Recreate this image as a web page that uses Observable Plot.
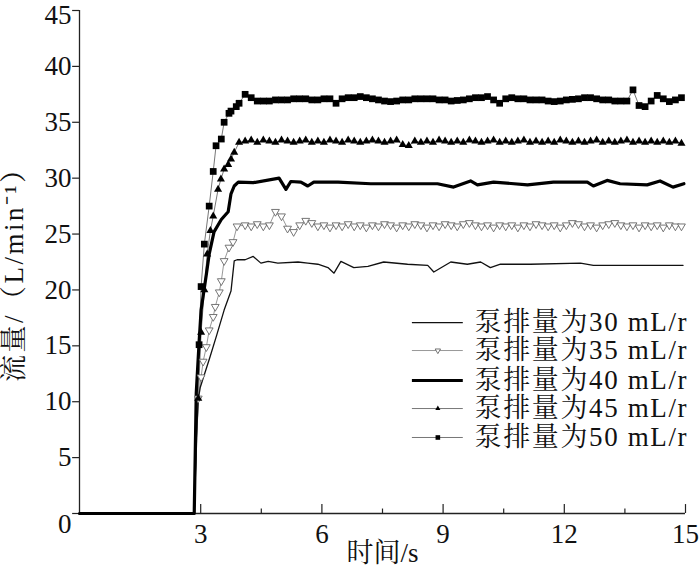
<!DOCTYPE html>
<html><head><meta charset="utf-8">
<script src="https://cdn.jsdelivr.net/npm/d3@7"></script>
<script src="https://cdn.jsdelivr.net/npm/@observablehq/plot@0.6"></script>
<style>html,body{margin:0;padding:0;background:#fff;}</style>
</head><body><div id="chart"></div>
<script>
// ---- labels & ticks ----
const seriesNames = ["泵排量为30 mL/r","泵排量为35 mL/r","泵排量为40 mL/r","泵排量为45 mL/r","泵排量为50 mL/r"];
const xLabel = "时间/s";
const yLabel = "流量/（L/min⁻¹）";
const xMajorTicks = [3, 6, 9, 12, 15];
const xMinorTicks = [4.5, 7.5, 10.5, 13.5];
const yTicks = [0, 5, 10, 15, 20, 25, 30, 35, 40, 45];

// ---- 30 mL/r (thin line) ----
const t30 = [0, 2.84, 2.89, 2.94, 2.99, 3.23, 3.40, 3.58, 3.75, 3.83, 3.90, 4.10, 4.30, 4.49, 4.67, 4.91, 5.41, 5.65, 5.90, 6.15, 6.30, 6.47, 6.79, 7.14, 7.53, 8.12, 8.62, 8.77, 9.19, 9.60, 9.93, 10.17, 10.42, 11.16, 12.40, 12.72, 14.94];
const v30 = [0, 0, 6.6, 10.2, 11.3, 14.0, 16.0, 18.2, 19.9, 22.6, 22.7, 22.7, 23.0, 22.4, 22.55, 22.4, 22.5, 22.4, 22.3, 22.0, 21.5, 22.55, 22.0, 22.1, 22.5, 22.3, 22.2, 21.6, 22.5, 22.3, 22.5, 22.0, 22.3, 22.3, 22.4, 22.2, 22.2];

// ---- 40 mL/r (thick line) ----
const t40 = [0, 2.84, 2.89, 2.96, 3.01, 3.14, 3.21, 3.33, 3.51, 3.68, 3.75, 3.83, 3.93, 4.30, 4.94, 5.11, 5.23, 5.48, 5.65, 5.80, 6.40, 7.21, 8.02, 8.44, 8.86, 9.26, 9.68, 9.85, 10.25, 11.09, 11.73, 12.57, 12.72, 13.06, 13.38, 14.05, 14.37, 14.69, 14.96];
const v40 = [0, 0, 10.8, 15.3, 18.2, 21.4, 23.2, 25.2, 26.3, 27.0, 28.6, 29.3, 29.65, 29.6, 30.0, 29.0, 29.7, 29.65, 29.3, 29.65, 29.65, 29.5, 29.5, 29.5, 29.5, 29.2, 29.75, 29.4, 29.65, 29.4, 29.65, 29.65, 29.3, 29.8, 29.5, 29.4, 29.75, 29.2, 29.5];

// ---- marker series: rise part ----
const t35rise = [0, 2.84, 2.94, 3.01, 3.06, 3.14, 3.21, 3.31, 3.36, 3.46, 3.51, 3.58, 3.70, 3.80, 3.90];
const v35rise = [0, 0, 10.3, 12.2, 13.6, 14.9, 16.4, 17.6, 18.5, 19.8, 20.8, 22.6, 23.8, 24.3, 25.7];
const t45rise = [0, 2.84, 2.94, 3.01, 3.09, 3.16, 3.24, 3.31, 3.43, 3.50, 3.58, 3.68, 3.75, 3.83, 3.95];
const v45rise = [0, 0, 10.3, 16.2, 20.0, 23.2, 25.3, 26.6, 29.0, 29.9, 30.8, 31.2, 31.7, 32.3, 33.2];
const t50rise = [0, 2.84, 2.96, 3.01, 3.09, 3.21, 3.31, 3.38, 3.51, 3.58, 3.70, 3.75, 3.88, 3.95];
const v50rise = [0, 0, 15.1, 20.3, 24.1, 27.5, 30.6, 32.9, 33.5, 35.0, 35.8, 36.0, 36.4, 36.7];

// ---- marker series: steady part (shared sample times) ----
const tSteady = [4.1,4.25,4.4,4.55,4.7,4.85,5.0,5.15,5.3,5.45,
  5.6,5.75,5.9,6.05,6.2,6.35,6.5,6.65,6.8,6.95,
  7.1,7.25,7.4,7.55,7.7,7.85,8.0,8.15,8.3,8.45,
  8.6,8.75,8.9,9.05,9.2,9.35,9.5,9.65,9.8,9.95,
  10.1,10.25,10.4,10.55,10.7,10.85,11.0,11.15,11.3,11.45,
  11.6,11.75,11.9,12.05,12.2,12.35,12.5,12.65,12.8,12.95,
  13.1,13.25,13.4,13.55,13.7,13.85,14.0,14.15,14.3,14.45,
  14.6,14.75,14.9];
const v35steady = [25.8,25.7,25.9,25.7,25.8,27.0,26.6,25.5,25.2,25.8,
  26.2,26.0,25.7,25.8,25.6,25.8,25.7,25.9,25.7,25.8,
  25.6,25.8,25.7,25.9,25.8,25.6,25.8,25.7,25.9,25.8,
  25.6,25.8,25.7,25.9,25.8,25.7,25.9,26.0,25.8,25.7,
  25.8,25.6,25.8,25.7,25.8,25.6,25.8,25.7,25.9,25.8,
  25.7,25.8,25.6,25.8,26.0,25.9,25.7,25.8,25.6,25.8,
  25.9,26.0,25.8,25.7,25.8,25.6,25.8,25.7,25.8,25.6,
  25.8,25.7,25.7];
const v45steady = [33.3,33.4,33.2,33.4,33.3,33.2,33.4,33.3,33.2,33.3,
  33.4,33.2,33.3,33.2,33.4,33.3,33.2,33.4,33.3,33.2,
  33.3,33.4,33.3,33.2,33.3,33.4,33.0,32.9,33.3,33.2,
  33.3,33.2,33.4,33.3,33.2,33.3,33.2,33.4,33.3,33.2,
  33.3,33.4,33.2,33.3,33.2,33.3,33.4,33.2,33.3,33.2,
  33.3,33.2,33.4,33.3,33.2,33.3,33.2,33.3,33.4,33.2,
  33.3,33.2,33.3,33.4,33.2,33.3,33.2,33.3,33.2,33.3,
  33.2,33.3,33.1];
const v50steady = [37.5,37.2,36.9,36.9,36.9,37.0,37.0,37.0,37.1,37.1,
  37.1,37.0,37.0,37.1,37.1,36.7,37.1,37.2,37.2,37.3,
  37.2,37.1,37.0,36.9,36.85,36.9,37.0,37.0,37.1,37.1,
  37.1,37.1,37.0,37.0,36.9,36.95,37.0,37.1,37.2,37.2,
  37.3,37.0,36.7,37.1,37.2,37.1,37.1,37.0,37.0,37.0,
  36.9,36.85,36.9,37.0,37.05,37.1,37.2,37.2,37.1,37.0,
  37.0,36.9,36.9,36.9,37.9,36.5,36.4,36.9,37.4,37.1,
  36.85,37.0,37.2];

// ---- build tables ----
const rows = (t, v) => t.map((x, i) => ({x, y: v[i]}));
const s30 = rows(t30, v30);
const s40 = rows(t40, v40);
const s35 = rows(t35rise.concat(tSteady), v35rise.concat(v35steady));
const s45 = rows(t45rise.concat(tSteady), v45rise.concat(v45steady));
const s50 = rows(t50rise.concat(tSteady), v50rise.concat(v50steady));

const triDown = {draw(ctx, size) {
  const a = Math.sqrt(4 * size / Math.sqrt(3)), h = a * Math.sqrt(3) / 2;
  ctx.moveTo(-a / 2, -h / 3); ctx.lineTo(a / 2, -h / 3); ctx.lineTo(0, 2 * h / 3); ctx.closePath();
}};

const serif = "'Liberation Serif','Times New Roman','Noto Serif CJK SC','Noto Sans CJK SC',serif";
const FS = 27;

// legend placement (data coordinates inside the frame)
const legY = [17.08, 14.58, 11.9, 9.39, 6.8];
const legX1 = 8.24, legX2 = 9.5, legXm = 8.87, legXt = 9.78;

const marks = [
  // axes
  Plot.ruleY([0], {stroke: "#222", strokeWidth: 1.3}),
  Plot.ruleX([0], {stroke: "#222", strokeWidth: 1.3}),
  Plot.ruleY(yTicks, {y: d => d, x1: -0.17, x2: 0, stroke: "#222", strokeWidth: 1.2}),
  Plot.ruleX(xMajorTicks, {x: d => d, y1: 0, y2: 0.8, stroke: "#222", strokeWidth: 1.2}),
  Plot.ruleX(xMinorTicks, {x: d => d, y1: 0, y2: 0.4, stroke: "#222", strokeWidth: 1.2}),
  // series lines
  Plot.line(s35, {x: "x", y: "y", stroke: "#999", strokeWidth: 1}),
  Plot.line(s45, {x: "x", y: "y", stroke: "#777", strokeWidth: 1}),
  Plot.line(s50, {x: "x", y: "y", stroke: "#777", strokeWidth: 1}),
  Plot.line(s30, {x: "x", y: "y", stroke: "#111", strokeWidth: 1.3}),
  Plot.line(s40, {x: "x", y: "y", stroke: "#000", strokeWidth: 3.2}),
  // markers
  Plot.dot(s35.filter(d => d.y > 0), {x: "x", y: "y", symbol: triDown, r: 2.9, stroke: "#666", fill: "white", strokeWidth: 0.9}),
  Plot.dot(s45.filter(d => d.y > 0), {x: "x", y: "y", symbol: "triangle", r: 3.0, fill: "#000", stroke: "none"}),
  Plot.dot(s50.filter(d => d.y > 0), {x: "x", y: "y", symbol: "square", r: 3.8, fill: "#000", stroke: "none"}),
  // tick labels
  Plot.text(yTicks.filter(d => d > 0 && d < 45), {x: 0, y: d => d, text: d => String(d), dx: -8, textAnchor: "end", fontSize: FS, fontFamily: serif, fill: "#111"}),
  Plot.text([45], {x: 0, y: d => d, text: d => String(d), dx: -8, dy: 5, textAnchor: "end", fontSize: FS, fontFamily: serif, fill: "#111"}),
  Plot.text([0], {x: 0, y: 0, text: d => String(d), dx: -8, dy: 11, textAnchor: "end", fontSize: FS, fontFamily: serif, fill: "#111"}),
  Plot.text(xMajorTicks, {x: d => d, y: 0, text: d => String(d), dy: 21, fontSize: FS, fontFamily: serif, fill: "#111"}),
  // axis titles
  Plot.text([xLabel], {frameAnchor: "bottom", dy: 48, fontSize: FS, fontFamily: serif, fill: "#111"}),
  Plot.text([yLabel], {frameAnchor: "left", textAnchor: "middle", dx: -65, dy: 7, rotate: -90, fontSize: FS, fontFamily: serif, fill: "#111"}),
  // legend
  Plot.ruleY([legY[0]], {x1: legX1, x2: legX2, stroke: "#111", strokeWidth: 1.3}),
  Plot.ruleY([legY[1]], {x1: legX1, x2: legX2, stroke: "#999", strokeWidth: 1}),
  Plot.ruleY([legY[2]], {x1: legX1, x2: legX2, stroke: "#000", strokeWidth: 3.2}),
  Plot.ruleY([legY[3]], {x1: legX1, x2: legX2, stroke: "#777", strokeWidth: 1}),
  Plot.ruleY([legY[4]], {x1: legX1, x2: legX2, stroke: "#777", strokeWidth: 1}),
  Plot.dot([legY[1]], {x: legXm, y: d => d, symbol: triDown, r: 2.0, stroke: "#666", fill: "white", strokeWidth: 0.9}),
  Plot.dot([legY[3]], {x: legXm, y: d => d, symbol: "triangle", r: 1.9, fill: "#000", stroke: "none"}),
  Plot.dot([legY[4]], {x: legXm, y: d => d, symbol: "square", r: 2.6, fill: "#000", stroke: "none"}),
  Plot.text(seriesNames, {x: legXt, y: (d, i) => legY[i], text: d => d, textAnchor: "start", fontSize: FS, fontFamily: serif, fill: "#111"})
];

const chart = Plot.plot({
  width: 700, height: 574,
  marginLeft: 79, marginRight: 15, marginTop: 10, marginBottom: 61,
  x: {domain: [0, 15], axis: null},
  y: {domain: [0, 45], axis: null},
  style: {background: "white", fontFamily: serif, overflow: "visible"},
  marks
});
// widen texts to the spread seen in the reference
d3.select(chart).selectAll("text")
  .filter(function() { return seriesNames.includes(this.textContent); })
  .attr("textLength", 212).attr("lengthAdjust", "spacing");
d3.select(chart).selectAll("text")
  .filter(function() { return this.textContent === yLabel; })
  .attr("textLength", 226).attr("lengthAdjust", "spacing");
document.getElementById("chart").appendChild(chart);
</script>
</body></html>
